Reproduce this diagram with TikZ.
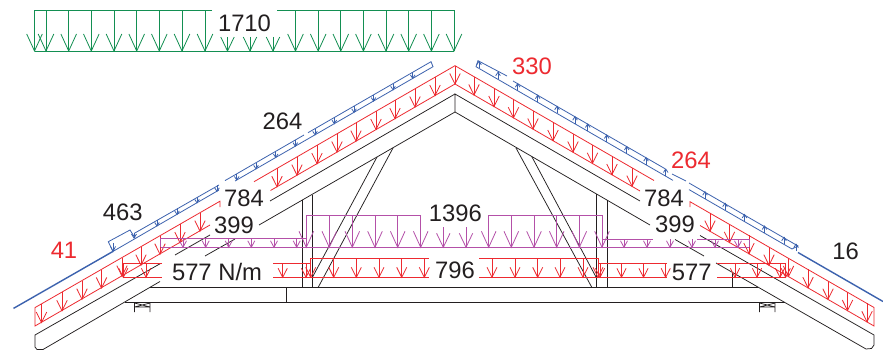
\documentclass[tikz,border=0pt]{standalone}
\usepackage{fontspec}
\setmainfont{Liberation Sans}
\definecolor{cred}{HTML}{ED2A30}
\definecolor{cgreen}{HTML}{138F52}
\definecolor{cpurple}{HTML}{B450A8}
\definecolor{cblue}{HTML}{3C62AE}
\definecolor{cblack}{HTML}{231F20}
\newcommand{\varrow}[5]{% x, ytop, ytip, half width, back
  \draw ({#1},{#2}) -- ({#1},{#3});
  \draw ({#1-#4},{#3-#5}) -- ({#1},{#3}) -- ({#1+#4},{#3-#5});}
\newcommand{\rrarrow}[1]{\varrow{#1}{65.7+0.577*abs(#1-455)}{84+0.577*abs(#1-455)}{5.2}{10.5}}
\begin{document}
\begin{tikzpicture}[x=1pt,y=-1pt,line join=miter,
  lab/.style={font=\fontsize{23.8}{24}\selectfont,text=cblack,inner sep=0pt,anchor=center},
  redlab/.style={lab,text=cred},
  struct/.style={draw=cblack,line width=0.75pt},
  gload/.style={cgreen,line width=0.8pt},
  rload/.style={cred,line width=0.8pt},
  pload/.style={cpurple,line width=0.8pt},
  bload/.style={cblue,line width=0.8pt}]
\useasboundingbox (0,0) rectangle (883,350);
\fill[white] (0,0) rectangle (883,350);

% --- structure
\begin{scope}[struct]
  % rafters, top edge
  \draw (455,94) -- (270,201);
  \draw (210,235) -- (175,255);
  \draw (160.5,263.5) -- (35,335) -- (35,347) -- (37,349.5) -- (43,349.5) -- (160,281.5);
  \draw (205,256) -- (235,239);
  \draw (259,225) -- (455,112) -- (650,225);
  \draw (675,239.5) -- (704,256);
  \draw (716,263) -- (866,349) -- (871.5,348.5) -- (874,345) -- (874,335) -- (700,235.5);
  \draw (640,201) -- (455,94) -- (455,112);
  % chord
  \draw (150,287.7) -- (758,287.7);
  \draw (125,302.7) -- (785,302.7);
  \draw (286.7,287.7) -- (286.7,302.7);
  % studs
  \draw (302,200) -- (302,287.7);
  \draw (312,194.5) -- (312,287.7);
  \draw (596,194) -- (596,287.7);
  \draw (607,200) -- (607,287.7);
  % struts
  \draw (377,157) -- (312,278);
  \draw (393,148) -- (318,287.7);
  \draw (532,157) -- (596,277);
  \draw (516,148) -- (592,287.7);
  \draw (732.7,273) -- (732.7,287.7);
  % supports
  \draw (134.5,312) -- (134.5,303) (150,312) -- (150,303) (134.5,307) -- (150,307)
        (134.5,303) -- (150,307) (150,303) -- (134.5,307);
  \draw (759.5,312) -- (759.5,303) (775,312) -- (775,303) (759.5,307) -- (775,307)
        (759.5,303) -- (775,307) (775,303) -- (759.5,307);
\end{scope}

% --- green load 1710
\begin{scope}[gload]
  \draw (212,10.5) -- (34.5,10.5) (277,10.5) -- (454,10.5);
  \draw (34.5,51) -- (454,51);
  \foreach \gx in {34.5,46,68.7,91.3,114,136.7,159.3,182,205,295.5,318.2,340.8,363.4,386,408.7,431.4,454}
    {\varrow{\gx}{10.5}{51}{7.8}{17}}
  \foreach \gx in {227.5,250,273}
    {\varrow{\gx}{37}{51}{6.7}{14}}
\end{scope}

% --- red loads on rafters
\begin{scope}[rload]
  \draw (220,207) -- (220,201.2) -- (35,307.6) -- (35,326) -- (210,225);
  \draw (254,181.7) -- (455,65.7) -- (654,180.5);
  \draw (270.5,190.5) -- (455,84) -- (640,191);
  \draw (690,207) -- (690,201.7) -- (874,307.5) -- (874,326) -- (700,225.5);
  \foreach \rx in {41.5,62,82,101.5,122,141,160,180,200,277,297,317,337,356,376,395,415,435,455,
                   474,494,513.5,533,553,573,592.5,612,632,710,729.5,749,769,788.5,808,828,847.5,867}
    {\rrarrow{\rx}}
  % lower loads
  \draw (162,263.3) -- (123.3,263.3) -- (123.3,277.3) -- (162,277.3);
  \draw (273.3,263.3) -- (310.7,263.3) (273.3,277.3) -- (429.3,277.3);
  \draw (310.7,277.3) -- (310.7,258.3) -- (429.3,258.3);
  \draw (479.3,258.3) -- (598,258.3) -- (598,277.3) (479.3,277.3) -- (666.7,277.3);
  \draw (598,263.3) -- (666.7,263.3) (716.7,263.3) -- (785.7,263.3) -- (785.7,277.3) -- (716.7,277.3);
  \foreach \rx in {123.3,146,282.7,306,600,621.5,643.5,665.7,735,757,780,785.7}
    {\varrow{\rx}{263.3}{277.3}{4.6}{9}}
  \foreach \rx in {310.7,333.7,356.3,379,401.7,424.3,492,515,537.7,560,583,598}
    {\varrow{\rx}{258.3}{277.3}{5}{10}}
\end{scope}

% --- purple loads
\begin{scope}[pload]
  \draw (421,215.3) -- (306.3,215.3) -- (306.3,238.5) (488,215.3) -- (602,215.3) -- (602,238.5);
  \draw (160.7,247.3) -- (749,247.3);
  \draw (160.7,247.3) -- (160.7,238.3) -- (306.3,238.3);
  \draw (602,239) -- (653,239) (697,239) -- (749,239) -- (749,247.3);
  \foreach \px in {306.3,329.3,352.3,375,397.7,420.7,488.7,511.3,534,556.7,579.3,602}
    {\varrow{\px}{215.3}{247.3}{7.3}{16}}
  \foreach \px in {443.3,466}
    {\varrow{\px}{227}{247.3}{6.7}{14}}
  \foreach \px in {183,205.7,228.7,251.3,274,296.7}
    {\varrow{\px}{238.3}{247.3}{3.5}{6.5}}
  \foreach \px in {624,647,670,692,715,738}
    {\varrow{\px}{239}{247.3}{3.5}{6.5}}
\end{scope}

% --- blue loads
\begin{scope}[bload]
  \draw[line width=1.4pt] (13.5,308.4) -- (113,251.4);
  \draw[line width=1.4pt] (798,252.5) -- (883,301.5);
  % left band
  \draw (113,251.4) -- (219,190);
  \draw (235,181) -- (433,66.7) -- (431,61.7) -- (308,132.7);
  \draw (304,135) -- (225,180.6);
  \draw (219,185) -- (134,233.5);
  \draw (113,251.4) -- (108.3,241.7) -- (130,230) -- (135,238);
  \varrow{113}{243}{251.4}{2.5}{5}
  \varrow{134}{233}{238}{2.5}{4}
  \foreach \bx in {157,177,197,217,236.7,256,275.7,295.3,315,334.3,354,373.5,393,412.7}
    {\varrow{\bx}{61.7+0.577*(431-\bx)}{66.7+0.577*(433-\bx)}{2.3}{3.5}}
  % right band
  \draw (507,76) -- (478,60.7) -- (476,66.7) -- (673,180.4);
  \draw (513,81) -- (665,168.7);
  \draw (672,174) -- (686,181);
  \draw (689,183) -- (798,246) -- (792,249) -- (689,189.6);
  \foreach \bx in {479,498,517.7,537.7,557,575,587.7,606.7,626.7,646,665.7,705,725,744.5,764.5,784,796}
    {\draw ({\bx},{66.7+0.577*(\bx-476)}) -- ({\bx},{60.7+0.577*(\bx-478)});
     \draw ({\bx-2.3},{64.2+0.577*(\bx-478)}) -- ({\bx},{60.7+0.577*(\bx-478)}) -- ({\bx+2.3},{64.2+0.577*(\bx-478)});}
\end{scope}

% --- labels
\node[lab] (n1710) at (244.5,23.7) {1710};
\node[redlab] (n41) at (64,250) {41};
\node[lab] (n463) at (122.7,212) {463};
\node[lab] (n264a) at (282.5,121.7) {264};
\node[lab] (n784a) at (244,198) {784};
\node[lab] (n399a) at (234,225.8) {399};
\node[lab] (n577a) at (217,272) {577 N/m};
\node[lab] (n1396) at (455.3,213.7) {1396};
\node[lab] (n796) at (455,270) {796};
\node[redlab] (n330) at (532,66.7) {330};
\node[redlab] (n264b) at (691,160) {264};
\node[lab] (n784b) at (664,198) {784};
\node[lab] (n399b) at (675,224.7) {399};
\node[lab] (n577b) at (691.7,272) {577};
\node[lab] (n16) at (845.7,251.7) {16};
\end{tikzpicture}
\end{document}
